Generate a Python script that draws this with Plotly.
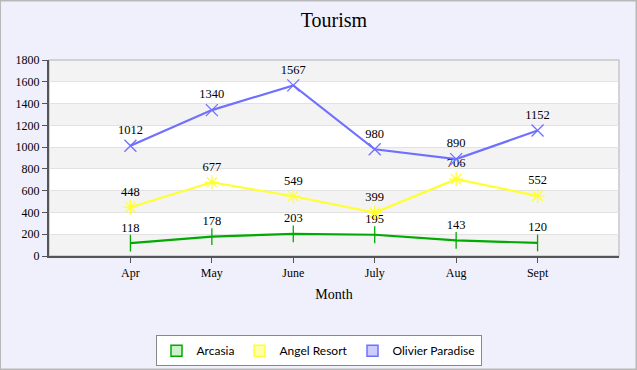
import plotly.graph_objects as go

months = ["Apr", "May", "June", "July", "Aug", "Sept"]
arcasia = [118, 178, 203, 195, 143, 120]
angel_resort = [448, 677, 549, 399, 706, 552]
olivier_paradise = [1012, 1340, 1567, 980, 890, 1152]
series_names = ["Arcasia", "Angel Resort", "Olivier Paradise"]
series_values = [arcasia, angel_resort, olivier_paradise]
colors = ["#00aa00", "#ffff33", "#7070ff"]
legend_fills = ["#ccf0cc", "#ffffaa", "#ccccff"]
symbols = ["line-ns-open", "asterisk-open", "x-thin-open"]

serif = "Liberation Serif, Times New Roman, serif"
fig = go.Figure()

for name, vals, c, sym in zip(series_names, series_values, colors, symbols):
    fig.add_trace(go.Scatter(
        x=months, y=vals, mode="lines+markers+text", name=name,
        line=dict(color=c, width=2.2),
        marker=dict(symbol=sym, size=12, line=dict(color=c, width=1.3)),
        text=[str(v) for v in vals], textposition="top center",
        textfont=dict(family=serif, size=12.5, color="#000000"),
        showlegend=False, cliponaxis=False,
    ))
for name, c, f in zip(series_names, colors, legend_fills):
    fig.add_trace(go.Scatter(
        x=[None], y=[None], mode="markers", name=name,
        marker=dict(symbol="square", size=11, color=f, line=dict(color=c, width=1.5)),
    ))

# alternating bands
shapes = []
for lo in range(0, 1800, 400):
    shapes.append(dict(type="rect", xref="paper", yref="y", x0=0, x1=1, y0=lo, y1=lo + 200,
                       fillcolor="#f3f3f3", line=dict(width=0), layer="below"))
shapes.append(dict(type="rect", xref="paper", yref="paper", x0=0, x1=1, y0=0, y1=1,
                   line=dict(color="#c8c8c8", width=1.5), layer="below"))
# outer border
shapes.append(dict(type="rect", xref="paper", yref="paper",
                   x0=-49/570, x1=1 + 17.5/570, y0=-113.5/196, y1=1 + 59.5/196,
                   line=dict(color="#b8b8b8", width=2)))

fig.update_layout(
    width=637, height=370,
    margin=dict(l=49, r=18, t=60, b=114),
    paper_bgcolor="#f0f0fc", plot_bgcolor="#ffffff",
    title=dict(text="Tourism", x=0.5, xref="paper", xanchor="center",
               y=1 - 20/370, yanchor="middle",
               font=dict(family=serif, size=20, color="#000000")),
    shapes=shapes,
    xaxis=dict(type="category", range=[-1, 6], showgrid=False,
               showline=True, linecolor="#555555", linewidth=2,
               ticks="outside", ticklen=5, tickcolor="#555555",
               tickfont=dict(family=serif, size=12, color="#000000"),
               title=dict(text="Month", font=dict(family=serif, size=14, color="#000000"), standoff=10),
               zeroline=False, fixedrange=True),
    yaxis=dict(range=[0, 1800], dtick=200, showgrid=True, gridcolor="#e2e2e2", gridwidth=1,
               showline=True, linecolor="#555555", linewidth=2,
               ticks="outside", ticklen=5, tickcolor="#555555",
               tickfont=dict(family=serif, size=12, color="#000000"),
               zeroline=False, fixedrange=True),
    legend=dict(orientation="h", xref="container", yref="container", x=0.5, y=0.01,
                xanchor="center", yanchor="bottom",
                bgcolor="#ffffff", bordercolor="#888888", borderwidth=1,
                font=dict(family="Lato, Open Sans, sans-serif", size=12, color="#000000"),
                itemwidth=30),
)

fig.write_html("out.html", config={"displayModeBar": False},
               post_script="document.body.style.margin='0';")
